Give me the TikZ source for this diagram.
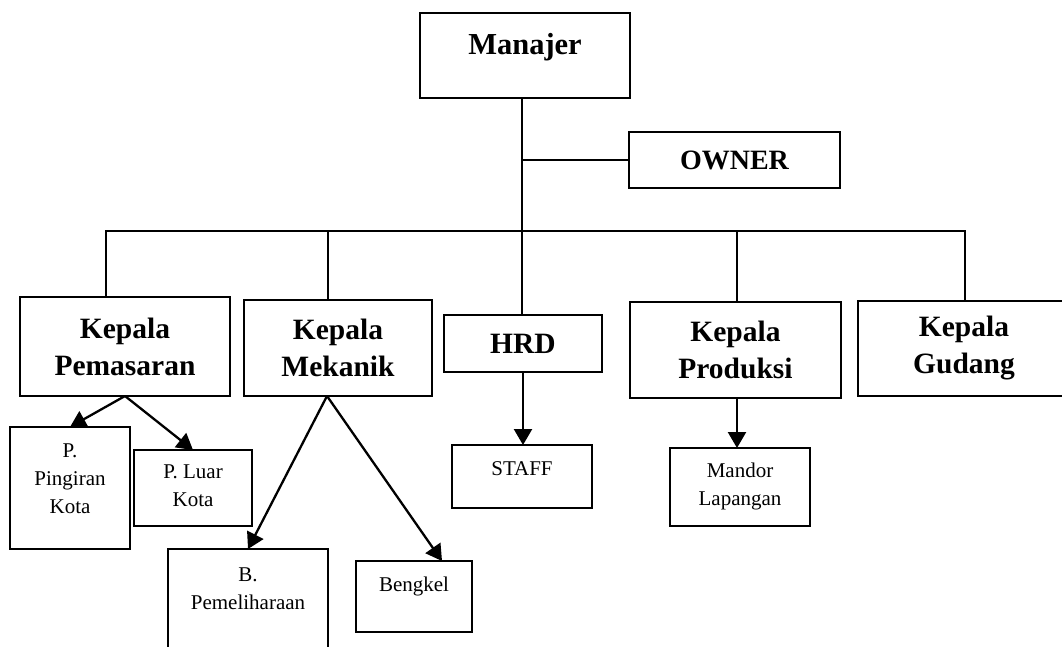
\documentclass[tikz,border=0pt]{standalone}
\usepackage{fontspec}
\setmainfont{Liberation Serif}
\usetikzlibrary{arrows.meta,calc}
\tikzset{
  box/.style={draw, line width=1.7pt, inner sep=0pt, outer sep=0pt},
  big/.style={font=\fontsize{29.5}{37}\selectfont\bfseries, align=center},
  link/.style={line width=1.5pt},
  arr/.style={line width=2.3pt, -{Triangle[length=16pt,width=18pt]}},
}
\newcommand{\tbox}[4]{\parbox[c][#2][t]{#1}{\centering\fontsize{21}{28}\selectfont\rule{0pt}{#3}#4}}
\begin{document}
\begin{tikzpicture}[x=1pt,y=-1pt]
\useasboundingbox (0,0) rectangle (1062,646);
\clip (0,0) rectangle (1062,646);
% top
\node[box] (man) at (525,55.5) {\parbox[c][85pt][t]{210pt}{\centering\fontsize{30.5}{37}\selectfont\bfseries\rule{0pt}{41pt}Manajer}};
\node[box, minimum width=211pt, minimum height=56pt, font=\fontsize{28}{34}\selectfont\bfseries] (own) at (734.5,160) {OWNER};
% second level
\node[box, big, minimum width=210pt, minimum height=99pt] (kpm) at (125,346.5) {Kepala\\Pemasaran};
\node[box, big, minimum width=188pt, minimum height=96pt] (kmk) at (338,348) {Kepala\\Mekanik};
\node[box, big, minimum width=158pt, minimum height=57pt] (hrd) at (523,343.5) {HRD};
\node[box, big, minimum width=211pt, minimum height=96pt] (kpr) at (735.5,350) {Kepala\\Produksi};
\node[box, big, minimum width=212pt, minimum height=95pt] (kgd) at (964,348.5) {Kepala\\Gudang};
% third level
\node[box] (ppk) at (70,488) {\tbox{120pt}{122pt}{30pt}{P.\\Pingiran\\Kota}};
\node[box] (plk) at (193,488) {\tbox{118pt}{76pt}{28pt}{P. Luar\\Kota}};
\node[box] (staff) at (522,476.5) {\tbox{140pt}{63pt}{30pt}{STAFF}};
\node[box] (mandor) at (740,487) {\tbox{140pt}{78pt}{29pt}{Mandor\\Lapangan}};
\node[box] (bpm) at (248,624.5) {\tbox{160pt}{151pt}{32pt}{B.\\Pemeliharaan}};
\node[box] (bkl) at (414,596.5) {\tbox{116pt}{71pt}{30pt}{Bengkel}};
% bus
\coordinate (b1) at (106,231);
\coordinate (b2) at (328,231);
\coordinate (bus) at (522,231);
\coordinate (b4) at (737,231);
\coordinate (b5) at (965,231);
\coordinate (mk) at (327,396);
\draw[link] (man.south -| bus) -- (bus);
\draw[link] (own.west) -- (own.west -| bus);
\draw[link] (b1 |- kpm.north) -- (b1) -- (b5) -- (b5 |- kgd.north);
\draw[link] (b2) -- (b2 |- kmk.north);
\draw[link] (bus) -- (bus |- hrd.north);
\draw[link] (b4) -- (b4 |- kpr.north);
% arrows
\draw[arr] (kpm.south) -- (ppk.north);
\draw[arr] (kpm.south) -- (plk.north);
\draw[arr] (mk) -- (bpm.north);
\draw[arr] (mk) -- ($(bkl.north west)+(86,0)$);
\draw[arr] (hrd.south) -- (hrd.south |- staff.north);
\draw[arr] (b4 |- kpr.south) -- (b4 |- mandor.north);
\end{tikzpicture}
\end{document}
